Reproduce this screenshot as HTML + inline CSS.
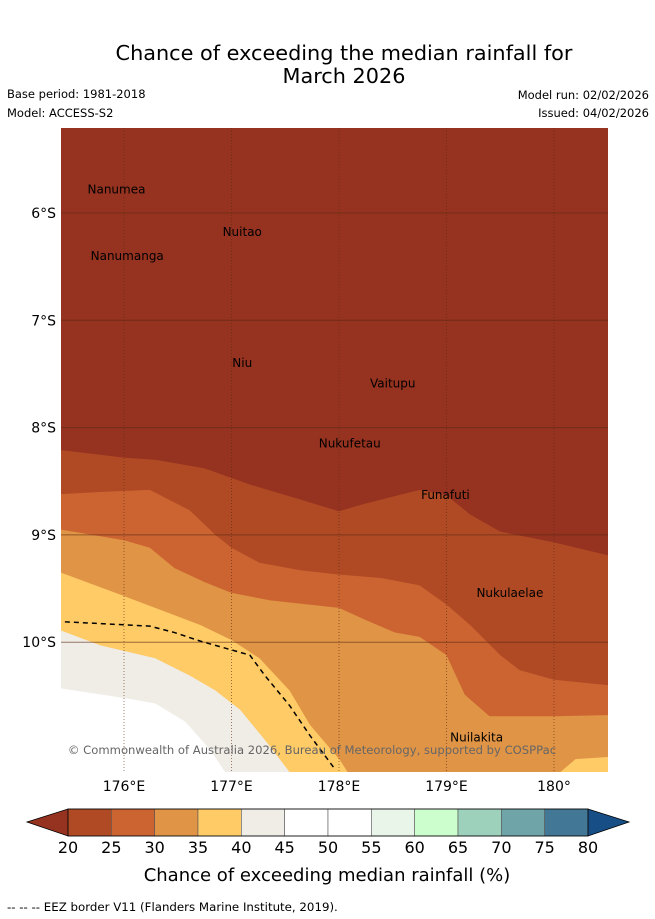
<!DOCTYPE html>
<html><head><meta charset="utf-8"><style>
body{margin:0;background:#fff;width:655px;height:919px;overflow:hidden;font-family:"Liberation Sans","DejaVu Sans",sans-serif}
svg{position:absolute;left:0;top:0}
</style></head><body>
<svg id="c" width="655" height="919" viewBox="0 0 655 919">
<text x="344" y="60" font-size="20.8" text-anchor="middle" fill="#000" font-family="DejaVu Sans, sans-serif">Chance of exceeding the median rainfall for</text>
<text x="344" y="83" font-size="20.8" text-anchor="middle" fill="#000" font-family="DejaVu Sans, sans-serif">March 2026</text>
<text x="7" y="98" font-size="11.5" font-family="DejaVu Sans, sans-serif">Base period: 1981-2018</text>
<text x="7" y="117" font-size="11.5" font-family="DejaVu Sans, sans-serif">Model: ACCESS-S2</text>
<text x="649" y="99" font-size="11.5" text-anchor="end" font-family="DejaVu Sans, sans-serif">Model run: 02/02/2026</text>
<text x="649" y="117" font-size="11.5" text-anchor="end" font-family="DejaVu Sans, sans-serif">Issued: 04/02/2026</text>
<defs><clipPath id="mc"><rect x="61" y="128" width="547" height="644"/></clipPath></defs>
<g id="map" clip-path="url(#mc)"></g>
<g id="ov"></g>
<text x="7" y="911" font-size="11.8" font-family="DejaVu Sans, sans-serif">-- -- -- EEZ border V11 (Flanders Marine Institute, 2019).</text>
<text x="327" y="881" font-size="18" text-anchor="middle" font-family="DejaVu Sans, sans-serif">Chance of exceeding median rainfall (%)</text>
</svg>
<script>
// ---- data ----
const lonTicks=[176,177,178,179,180];
const latTicks=[6,7,8,9,10];
const bandColors=["#963220","#b04a24","#cc6432","#e09445","#fecb67","#f0ece6","#ffffff"];
const b1Lon=[175.41,176,176.29,176.75,177.17,177.64,178,178.2,178.75,179,179.22,179.5,180,180.5];
const b1Lat=[8.21,8.28,8.30,8.38,8.53,8.67,8.78,8.72,8.58,8.63,8.81,8.97,9.07,9.19];
const b2Lon=[175.41,175.78,176.24,176.61,176.85,177,177.26,177.64,178,178.38,178.75,179,179.22,179.5,179.68,180,180.5];
const b2Lat=[8.62,8.60,8.58,8.77,9.0,9.12,9.26,9.33,9.37,9.40,9.47,9.65,9.84,10.12,10.26,10.35,10.40];
const b3Lon=[175.41,176,176.24,176.47,176.75,177,177.36,178,178.24,178.52,178.75,179,179.17,179.4,180,180.5];
const b3Lat=[8.95,9.05,9.12,9.31,9.44,9.54,9.61,9.68,9.79,9.91,9.95,10.12,10.49,10.69,10.69,10.68];
const b4Lon=[175.41,176,176.29,176.71,177,177.26,177.54,177.73,178.01,178.2,179.8,180.06,180.2,180.5];
const b4Lat=[9.35,9.57,9.68,9.84,9.98,10.15,10.45,10.77,11.10,11.4,11.4,11.21,11.09,11.07];
const b5Lon=[175.41,175.78,176.29,176.61,176.85,177.08,177.31,177.54,177.64,180.5];
const b5Lat=[9.89,10.03,10.15,10.31,10.45,10.63,10.91,11.21,11.4,11.4];
const b6Lon=[175.41,176,176.29,176.57,176.8,176.94,177.03,180.5];
const b6Lat=[10.43,10.52,10.57,10.74,11.0,11.21,11.4,11.4];
const eezLon=[175.45,176.24,176.47,176.71,177.17,177.31,177.54,177.73,177.96];
const eezLat=[9.81,9.85,9.91,9.99,10.12,10.31,10.59,10.87,11.18];
const islandNames=["Nanumea","Nuitao","Nanumanga","Niu","Vaitupu","Nukufetau","Funafuti","Nukulaelae","Nuilakita"];
const islandLon=[175.93,177.10,176.03,177.10,178.50,178.10,178.99,179.59,179.28];
const islandLat=[5.77,6.17,6.39,7.39,7.58,8.14,8.62,9.53,10.88];
const cbLabels=[20,25,30,35,40,45,50,55,60,65,70,75,80];
const cbColors=["#b04a24","#cc6432","#e09445","#fecb67","#f0ece6","#ffffff","#ffffff","#e9f5e9","#ccfdcc","#9dd1bb","#6fa5a8","#427896"];
// ---- scales ----
const X=lon=>124+(lon-176)*107.5;
const Y=lat=>213+(lat-6)*107.3;
const NS="http://www.w3.org/2000/svg";
function mk(t,a,p){const e=document.createElementNS(NS,t);for(const k in a)e.setAttribute(k,a[k]);p.appendChild(e);return e;}
const map=document.getElementById('map'),ov=document.getElementById('ov'),svg=document.getElementById('c');
const bg=mk('rect',{x:61,y:128,width:547,height:644,fill:bandColors[0]},map);


const bounds=[[b1Lon,b1Lat],[b2Lon,b2Lat],[b3Lon,b3Lat],[b4Lon,b4Lat],[b5Lon,b5Lat],[b6Lon,b6Lat]];
bounds.forEach((b,i)=>{
  let d='M'+(X(b[0][0])-10)+','+Y(b[1][0]);
  b[0].forEach((lo,j)=>{d+=' L'+X(lo)+','+Y(b[1][j]);});
  d+=' L'+(X(b[0][b[0].length-1])+10)+','+Y(b[1][b[1].length-1])+' L620,800 L50,800 Z';
  const p=mk('path',{d:d,fill:bandColors[i+1]},map);
  
  
});
lonTicks.forEach(lo=>{
  const l=mk('line',{x1:X(lo),x2:X(lo),y1:128,y2:772,stroke:'#5a2a14','stroke-opacity':0.6,'stroke-width':1,'stroke-dasharray':'1,2'},map);
  
  
  const t=mk('text',{x:X(lo),y:791,'font-size':14,'text-anchor':'middle','font-family':'DejaVu Sans, sans-serif'},ov);
  t.textContent=lo+'°'+(lo<180?'E':'');
  
  
});
latTicks.forEach(la=>{
  const l=mk('line',{x1:61,x2:608,y1:Y(la),y2:Y(la),stroke:'#5a2a14','stroke-opacity':0.6,'stroke-width':1},map);
  
  
  const t=mk('text',{x:56,y:Y(la)+5,'font-size':14,'text-anchor':'end','font-family':'DejaVu Sans, sans-serif'},ov);
  t.textContent=la+'°S';
  
  
});
let ed='';eezLon.forEach((lo,j)=>{ed+=(j?' L':'M')+X(lo)+','+Y(eezLat[j]);});
const eez=mk('path',{d:ed,fill:'none',stroke:'#000','stroke-width':1.5,'stroke-dasharray':'5,4'},map);


islandNames.forEach((n,i)=>{
  const t=mk('text',{x:X(islandLon[i]),y:Y(islandLat[i])+5,'font-size':12,'text-anchor':'middle',fill:'#000','font-family':'DejaVu Sans, sans-serif'},map);
  t.textContent=n;
  
  
});
const cp=mk('text',{x:312,y:754,'font-size':11.6,'text-anchor':'middle',fill:'#666','font-family':'DejaVu Sans, sans-serif'},map);
cp.textContent='© Commonwealth of Australia 2026, Bureau of Meteorology, supported by COSPPac';


// colorbar
const cbX=v=>68+(v-20)*(520/60);
const lt=mk('polygon',{points:'27,822 68,809 68,836',fill:'#963220',stroke:'#000','stroke-width':0.8},svg);


const rt=mk('polygon',{points:'629,822 588,809 588,836',fill:'#164e85',stroke:'#000','stroke-width':0.8},svg);


cbColors.forEach((c,i)=>{
  const r=mk('rect',{x:cbX(cbLabels[i]),y:809,width:cbX(cbLabels[i+1])-cbX(cbLabels[i]),height:27,fill:c,stroke:'#555','stroke-width':0.6},svg);
  
  
});
mk('rect',{x:68,y:809,width:520,height:27,fill:'none',stroke:'#000','stroke-width':0.8},svg);
cbLabels.forEach(v=>{
  const t=mk('text',{x:cbX(v),y:853,'font-size':16,'text-anchor':'middle','font-family':'DejaVu Sans, sans-serif'},svg);
  t.textContent=v;
  
  
});
</script>
</body></html>
